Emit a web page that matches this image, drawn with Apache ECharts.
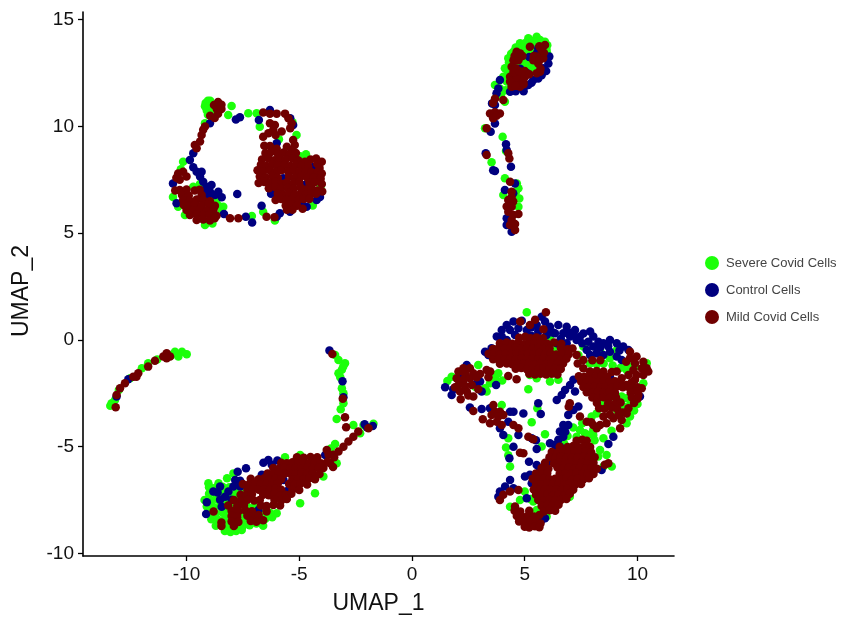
<!doctype html>
<html>

<head>
	<meta charset="utf-8">
	<title>UMAP</title>
	<script src="https://cdn.jsdelivr.net/npm/echarts@6/dist/echarts.min.js"></script>
	<style>
		html, body { margin: 0; padding: 0; background: #fff; }
		#chart { width: 841px; height: 622px; filter: blur(0.5px); }
	</style>
</head>

<body>
	<div id="chart"></div>
	<script>
		var seriesNames = ['Severe Covid Cells', 'Control Cells', 'Mild Covid Cells'];
		var xTicks = [-10, -5, 0, 5, 10];
		var yTicks = [-10, -5, 0, 5, 10, 15];

		// points, one list per island
		var severeRing = [[-9.15,11.1],[-9.05,11.2],[-8.95,11.2],[-9.18,10.95],[-9.0,10.95],[-8.9,10.8],[-9.1,10.75],[-8.95,10.6],[-9.05,10.55],[-8.0,10.96],[-8.15,10.54],[-7.26,10.62],[-6.89,10.62],[-9.18,10.15],[-6.75,9.99],[-5.12,9.6],[-10.15,8.35],[-10.6,6.7],[-10.37,6.24],[-10.07,5.85],[-9.18,5.38],[-8.85,5.45],[-8.6,6.3],[-8.37,6.24],[-8.67,6.55],[-8.44,6.0],[-9.7,7.18],[-7.1,5.8],[-6.6,6.0],[-6.08,5.6],[-4.95,8.6],[-4.7,8.7],[-4.05,7.2],[-5.9,9.4],[-5.3,10.2],[-9.4,7.3],[-9.3,6.9],[-10.25,8.0],[-4.4,6.3]];
		var controlRing = [[-7.81,10.33],[-7.63,10.43],[-6.79,10.3],[-6.3,10.77],[-5.4,10.38],[-5.27,10.07],[-8.96,10.15],[-7.75,6.83],[-6.67,6.29],[-7.37,5.77],[-7.09,5.5],[-8.34,5.9],[-6.0,5.77],[-9.7,8.74],[-9.85,8.43],[-9.7,8.09],[-9.4,7.65],[-9.26,7.41],[-9.11,7.18],[-8.96,6.94],[-8.74,6.79],[-8.44,6.68],[-8.59,6.94],[-8.89,7.26],[-9.33,7.88],[-9.55,7.88],[-10.6,7.33],[-10.44,6.4],[-9.05,6.75],[-9.2,7.0],[-4.23,6.55],[-4.08,6.7],[-4.67,6.24],[-5.86,5.93],[-5.41,6.0],[-4.38,8.1],[-5.71,7.57],[-6.15,6.95],[-4.75,7.26],[-6.0,9.21],[-6.25,6.85],[-4.9,6.4]];
		var mildRing = [[-8.6,11.15],[-8.78,11.0],[-8.45,11.02],[-8.65,10.8],[-8.45,10.82],[-8.6,10.6],[-8.75,10.4],[-8.95,10.5],[-9.18,10.0],[-9.26,9.84],[-9.33,9.6],[-9.4,9.29],[-9.55,8.98],[-9.63,9.13],[-10.15,7.88],[-10.37,7.8],[-10.0,7.65],[-10.3,7.5],[-10.45,7.6],[-10.5,7.0],
			[-10.3,7.02],[-10.0,7.05],[-9.63,7.0],[-9.42,7.03],[-10.2,6.79],[-9.9,6.76],[-9.33,6.79],[-10.15,6.55],[-9.85,6.52],[-9.55,6.58],[-9.26,6.55],[-8.96,6.5],[-10.12,6.32],[-9.92,6.3],[-9.62,6.34],[-9.33,6.3],[-9.03,6.35],[-8.74,6.28],[-10.0,6.09],[-9.7,6.07],[-9.4,6.12],[-9.1,6.05],[-8.8,6.1],[-9.85,5.85],[-9.55,5.88],[-9.26,5.83],[-8.96,5.87],[-8.67,5.82],[-9.55,5.62],[-9.26,5.64],[-8.96,5.6],[-8.75,5.7],[-8.07,5.7],[-7.7,5.7],[-6.45,5.77],[-6.1,5.75],
			[-6.6,10.65],[-6.3,10.6],[-6.0,10.6],[-5.63,10.6],[-5.48,10.38],[-5.34,10.15],[-5.4,9.92],[-6.08,10.07],[-6.3,10.15],[-6.15,9.84],[-6.37,9.68],[-6.05,9.6],[-5.78,9.76],[-6.6,9.52],[-5.27,9.37],[-5.2,9.13],[-5.34,8.9],
			[-6.55,9.1],[-6.3,9.08],[-6.0,8.95],[-5.55,9.05],
			[-6.5,8.75],[-6.25,8.8],[-5.95,8.72],[-5.7,8.78],[-5.42,8.7],[-5.15,8.75],[-4.5,8.45],[-4.25,8.5],
			[-6.65,8.45],[-6.35,8.5],[-6.1,8.42],[-5.85,8.48],[-5.6,8.45],[-5.3,8.5],[-5.05,8.42],[-4.75,8.35],[-4.2,8.25],[-4.0,8.35],
			[-6.7,8.2],[-6.45,8.15],[-6.2,8.22],[-5.95,8.18],[-5.65,8.2],[-5.4,8.15],[-5.15,8.2],[-4.9,8.15],[-4.6,8.12],[-4.1,8.05],
			[-6.85,7.95],[-6.6,7.9],[-6.3,7.95],[-6.05,7.88],[-5.8,7.95],[-5.5,7.9],[-5.25,7.95],[-5.0,7.88],[-4.7,7.9],[-4.45,7.85],[-4.2,7.85],[-4.0,7.8],
			[-6.75,7.65],[-6.5,7.62],[-6.2,7.68],[-5.95,7.6],[-5.45,7.65],[-5.2,7.6],[-4.9,7.68],[-4.65,7.6],[-4.35,7.62],[-4.05,7.55],
			[-6.8,7.35],[-6.55,7.4],[-6.3,7.35],[-6.05,7.4],[-5.8,7.32],[-5.55,7.38],[-5.25,7.35],[-5.0,7.4],[-4.55,7.36],[-4.3,7.4],[-4.0,7.3],
			[-6.35,7.1],[-6.05,7.15],[-5.8,7.08],[-5.5,7.12],[-5.25,7.08],[-4.95,7.15],[-4.7,7.05],[-4.45,7.1],[-4.2,7.0],[-3.98,6.95],
			[-5.95,6.85],[-5.7,6.8],[-5.45,6.88],[-5.2,6.8],[-4.95,6.85],[-4.7,6.8],[-4.45,6.85],[-4.25,6.85],
			[-6.05,6.55],[-5.8,6.6],[-5.55,6.55],[-5.3,6.6],[-5.05,6.55],[-4.8,6.6],[-4.55,6.6],
			[-5.6,6.3],[-5.35,6.35],[-5.1,6.28],[-4.85,6.15],[-5.3,6.1],[-5.55,6.1]];

		var severeStem = [[5.53,14.2],[5.16,14.13],[4.79,13.9],[5.9,13.97],[4.5,13.5],[4.27,13.19],[4.12,12.72],[4.05,12.33],[3.9,11.78],[3.75,11.39],[5.16,12.8],[5.05,13.2],[5.38,13.66],[4.95,13.5],[5.68,14.05],[5.97,13.58],[4.8,12.9],[4.4,13.4],[4.12,11.16],[3.68,11.94],[5.35,14.0],[5.0,13.9],[4.75,13.65],[5.5,13.95],[4.3,12.75],[4.25,12.35],[4.4,11.9],
			[4.6,13.7],[4.9,13.7],[5.2,13.9],[5.5,13.7],[5.75,13.85],[6.0,13.8],[4.3,13.0],[4.6,13.25],[4.25,12.55],[4.55,12.85],[5.25,13.0],[5.0,12.95],[5.3,12.75],[5.45,12.85],[4.2,12.1],[4.15,11.7],[3.95,11.5],[5.15,13.45],[5.4,13.45],[5.7,13.35],[6.0,13.4],
			[4.02,9.52],[4.17,8.85],[3.53,8.32],[4.12,7.57],[4.72,7.1],[4.65,7.33],[4.76,6.63],[4.72,6.24],[4.05,6.79],[3.24,9.91],[4.6,6.9]];
		var controlStem = [[3.9,12.17],[3.83,11.78],[3.75,11.55],[4.35,11.63],[4.94,11.78],[5.16,11.94],[5.38,12.17],[5.6,12.25],[5.82,12.72],[6.05,12.95],[6.09,13.27],[5.6,13.66],[4.8,12.7],[5.1,12.5],[5.3,12.05],[5.75,12.4],[5.95,12.6],[4.95,11.65],[4.6,11.65],[5.55,13.45],[5.2,13.25],[3.68,11.0],[3.55,11.08],[3.68,10.14],[3.49,9.75],[4.17,9.16],[4.2,8.9],[3.68,7.91],[3.6,7.95],[4.39,8.11],[4.12,7.02],[4.57,7.33],[4.49,6.87],[4.2,5.7],[4.2,5.38],[4.42,5.07],[3.27,8.74]];
		var mildStem = [[4.64,13.5],[4.5,13.1],[4.72,13.1],[4.42,12.8],[4.8,13.42],[5.23,13.73],[5.9,13.81],[5.75,13.58],[5.53,13.27],[5.82,13.19],[5.38,13.1],[5.6,12.95],[5.53,12.49],[5.68,12.56],[4.35,12.33],[4.57,12.41],[4.79,12.41],[5.01,12.33],[4.5,12.1],[4.72,12.1],[4.94,12.12],[4.42,11.86],[4.79,11.86],[4.62,12.3],[4.6,12.72],[4.55,13.3],[4.75,13.25],[4.9,13.3],[4.5,12.55],[4.75,12.6],[5.0,12.6],[5.2,12.45],[4.35,12.1],[4.6,11.9],[4.95,11.98],[5.85,13.45],[5.65,13.75],[5.4,13.3],[5.65,13.1],[5.7,12.7],[4.05,11.24],[3.68,11.3],[3.6,11.1],[3.46,10.61],[3.68,10.66],[3.9,10.61],[3.6,10.38],[3.75,10.5],[3.31,9.91],
			[3.31,8.66],[4.27,8.74],[4.32,8.5],[4.35,7.41],[4.42,6.94],[4.42,6.7],[4.27,6.55],[4.49,6.48],[4.2,6.25],[4.42,6.24],[4.27,6.0],[4.72,5.9],[4.49,5.85],[4.42,5.62],[4.57,5.43],[4.35,5.38],[4.57,5.15]];

		var severeBig = [[1.57,-1.92],[2.94,-1.17],[1.76,-1.72],[2.8,-2.19],[3.24,-2.26],[3.46,-2.03],[3.68,-1.8],[3.83,-1.56],[3.6,-1.64],[3.31,-2.42],[4.0,-1.9],
			[5.09,1.3],[5.16,-2.31],[3.98,-3.05],[5.56,-3.2],[5.31,-3.86],[5.9,-4.42],[4.27,-4.6],[4.17,-5.04],[4.35,-5.93],[5.75,-4.99],[4.27,-5.4],
			[5.38,-7.57],[5.53,-7.96],[4.79,-7.5],[4.35,-7.81],[7.0,-7.34],[8.26,-5.46],[8.49,-5.93],[8.86,-5.93],[8.63,-5.39],[8.34,-5.15],[5.97,-8.27],[5.25,-7.45],[5.0,-7.1],[7.67,-4.37],[7.3,-4.53],[8.04,-4.45],[8.49,-4.61],[8.85,-4.25],[9.52,-3.9],[9.67,-3.59],[9.82,-2.81],[9.52,-2.73],[9.3,-2.65],[9.67,-3.05],[9.37,-3.12],[9.08,-2.81],[9.89,-1.25],[9.52,-1.41],[10.41,-1.09],[10.26,-2.03],[9.67,-1.25],[9.08,-0.47],[8.34,-0.47],[7.6,-0.31],[7.38,-0.7],[6.12,0.16],[6.34,-0.47],[5.97,-0.47],[5.53,-1.8],[6.12,-1.95],[5.23,-1.64],[6.49,-1.87],[8.78,-0.86],[7.97,-3.59],[7.45,-4.22],[7.15,-4.1],[8.04,-4.22],[8.49,-2.97],[8.19,-3.44],[9.1,-3.3],[8.9,-1.2],[9.4,-1.2],[9.25,-1.3],[7.9,-1.1],[8.2,-1.15],[8.5,-1.1],[7.55,-3.9],[9.85,-3.3],[10.0,-3.0],[8.1,-4.7],[7.8,-4.45],[6.9,-4.5],[6.75,-4.85]];
		var controlBig = [[1.47,-2.22],[1.76,-2.58],[1.83,-2.31],[2.43,-1.17],[2.13,-1.64],[3.02,-1.95],[2.87,-2.03],[3.09,-2.42],[3.73,-2.11],[2.57,-3.17],[3.09,-3.23],
			[3.46,-3.2],[4.35,-3.36],[4.5,-3.36],[4.94,-3.44],[5.6,-2.97],[5.71,-3.47],[3.9,-4.14],[4.05,-4.45],[4.27,-3.83],[4.72,-4.45],[4.5,-5.0],[4.32,-5.54],[5.19,-5.7],[5.53,-5.11],[5.31,-4.61],[5.5,-4.7],[6.12,-4.84],
			[7.16,-1.87],[7.01,-2.11],[6.79,-2.34],[6.42,-2.81],[6.64,-2.58],[7.23,-2.42],[7.38,-3.12],[7.16,-3.28],[6.93,-3.51],[6.71,-3.98],[6.56,-4.29],[6.71,-4.53],[6.93,-3.98],[6.49,-4.68],[6.34,-4.92],[6.8,-4.3],[6.56,-4.99],
			[3.76,0.16],[3.98,0.47],[4.2,0.7],[4.5,0.86],[4.87,0.9],[4.35,0.47],[4.72,0.55],[5.09,0.47],[5.53,0.7],[5.75,1.09],[5.9,0.86],[6.12,0.62],[6.49,0.7],[6.86,0.62],[7.23,0.47],[6.71,0.31],[6.34,0.31],[5.97,0.23],[7.01,0.16],[7.45,0.16],[7.9,0.39],[8.04,0.16],[8.27,-0.08],[8.49,-0.16],[8.78,0.0],[9.08,-0.16],[9.37,-0.31],[9.6,-0.47],[7.82,-0.08],[8.04,-0.31],[8.19,-0.62],[8.49,-0.7],[8.78,-0.55],[9.08,-0.78],[9.3,-0.94],[7.75,-0.47],[3.24,-0.55],[3.39,-0.7],[3.53,-0.39],[3.98,0.16],[4.2,0.0],[4.57,0.23],[5.9,-0.16],[5.3,0.2],[6.42,-0.16],[6.86,-0.16],[7.3,0.0],[6.0,0.5],[6.6,0.05],[7.55,-0.15],
			[6.25,0.35],[6.95,0.35],[7.15,0.25],[5.6,0.4],[5.3,0.6],[7.6,0.3],[8.35,-0.35],[8.7,-0.3],[9.2,-0.5],[7.9,-0.7],
			[8.78,-1.72],[10.11,-2.65],[8.93,-4.53],[8.71,-4.87],[8.41,-6.09],[5.9,-8.35],[5.75,-8.43],[5.23,-6.32],[5.01,-6.4],[4.35,-6.56],[4.13,-6.87],[3.9,-7.1],[3.83,-7.34],[4.5,-6.95],[5.09,-7.42],[5.31,-6.71],[5.68,-6.09],[5.53,-5.86],[6.05,-5.7],[6.27,-5.23]];
		var mildBig = [[2.28,-1.33],[2.57,-1.33],[2.06,-1.48],[2.35,-1.56],[2.72,-1.56],[1.98,-1.8],[2.28,-1.87],[2.57,-1.8],[2.87,-1.75],[2.06,-2.11],[2.35,-2.15],[2.65,-2.11],[2.13,-2.42],[2.43,-2.42],[2.72,-2.65],[2.16,-2.78],[2.5,-2.6],[1.91,-2.22],[3.02,-1.6],[2.94,-2.31],[3.31,-1.41],[3.47,-1.48],[3.39,-1.75],[4.27,-1.69],[4.64,-1.84],
			[2.72,-3.33],[3.14,-3.72],[3.61,-3.05],[3.53,-3.51],[3.68,-3.36],[3.9,-3.36],[4.05,-3.51],[3.83,-3.59],[3.46,-3.9],[3.76,-3.83],[3.98,-3.98],[4.5,-3.98],[4.72,-4.14],[5.16,-4.53],[5.38,-4.65],[4.79,-5.28],[4.94,-5.31],[7.0,-2.97],[6.95,-3.13],
			[5.94,1.3],[5.83,0.5],[5.23,0.7],[4.8,0.86],[5.46,0.94],
			[4.75,0.1],[5.02,0.15],[5.25,0.08],[5.52,0.12],[5.8,0.08],
			[3.9,-0.15],[4.2,-0.12],[4.45,-0.18],[4.7,-0.14],[4.95,-0.2],[5.2,-0.13],[5.45,-0.16],[5.7,-0.12],[6.0,-0.18],[6.3,-0.12],[6.62,-0.18],
			[3.6,-0.42],[3.85,-0.38],[4.1,-0.43],[4.35,-0.4],[4.6,-0.36],[4.85,-0.43],[5.1,-0.39],[5.35,-0.42],[5.6,-0.37],[5.85,-0.43],[6.1,-0.4],[6.6,-0.37],[6.9,-0.44],[7.12,-0.4],
			[3.4,-0.65],[3.65,-0.62],[3.9,-0.67],[4.15,-0.63],[4.4,-0.66],[4.65,-0.62],[4.9,-0.68],[5.15,-0.63],[5.4,-0.66],[5.65,-0.61],[5.9,-0.67],[6.15,-0.63],[6.4,-0.68],[6.65,-0.63],[6.95,-0.67],
			[3.6,-0.9],[3.85,-0.87],[4.1,-0.92],[4.35,-0.88],[4.6,-0.91],[4.85,-0.87],[5.1,-0.92],[5.35,-0.88],[5.6,-0.91],[5.85,-0.87],[6.1,-0.92],[6.32,-0.88],[6.6,-0.92],[6.85,-0.88],
			[3.9,-1.12],[4.2,-1.1],[4.45,-1.14],[4.7,-1.1],[4.95,-1.13],[5.2,-1.09],[5.45,-1.14],[5.7,-1.1],[5.95,-1.13],[6.2,-1.09],[6.45,-1.14],[6.7,-1.1],
			[4.6,-1.35],[4.85,-1.32],[5.1,-1.37],[5.35,-1.33],[5.6,-1.36],[5.85,-1.32],[6.1,-1.37],[6.35,-1.33],[6.6,-1.36],
			[5.2,-1.58],[5.45,-1.62],[5.7,-1.58],[5.95,-1.62],[6.2,-1.58],[6.45,-1.62],
			[9.67,-0.55],[9.96,-0.78],[10.26,-1.02],[10.41,-1.33],[10.19,-1.33],[10.48,-1.48],[9.89,-1.09],[9.67,-0.86],[9.5,-1.02],[10.26,-1.64],[9.96,-1.64],[9.82,-1.41],[8.86,-1.5],[9.08,-1.48],[9.3,-1.8],[9.6,-1.64],[9.89,-1.87],[10.19,-2.26],[10.04,-2.58],[9.82,-2.26],[9.52,-2.11],[7.6,-0.94],[7.3,-0.7],[7.6,-1.33],[7.9,-1.48],[8.19,-1.45],[8.49,-1.48],[7.35,-1.1],[8.0,-0.95],[8.35,-0.95],
			[7.4,-1.7],[7.65,-1.73],[7.9,-1.68],[8.15,-1.72],[8.4,-1.7],[8.65,-1.73],
			[7.5,-1.95],[7.75,-1.98],[8.0,-1.93],[8.25,-1.97],[8.5,-1.95],[8.75,-1.98],[9.0,-1.93],[9.25,-1.97],[9.75,-1.98],
			[7.6,-2.2],[7.85,-2.23],[8.1,-2.18],[8.35,-2.22],[8.6,-2.2],[8.85,-2.23],[9.1,-2.18],[9.35,-2.22],[9.6,-2.2],[10.0,-2.22],
			[7.75,-2.45],[8.0,-2.48],[8.25,-2.43],[8.5,-2.47],[8.75,-2.45],[9.0,-2.48],[9.7,-2.47],[10.0,-2.4],
			[8.0,-2.7],[8.25,-2.72],[8.5,-2.68],[8.75,-2.72],[9.05,-2.7],[9.75,-2.7],[10.0,-2.75],
			[8.2,-2.95],[8.7,-2.97],[9.0,-3.0],[9.25,-2.93],[9.85,-2.95],
			[8.3,-3.2],[8.55,-3.22],[8.85,-3.18],[9.1,-3.22],[9.35,-3.4],[9.6,-3.2],
			[7.45,-3.59],[7.75,-3.83],[8.04,-3.98],[8.34,-3.98],[8.63,-3.9],[8.93,-3.67],[9.23,-4.14],[9.3,-3.75],[9.52,-3.44],[9.15,-3.51],[8.78,-3.5],[8.49,-3.59],[8.19,-4.14],[7.95,-3.85],
			[7.3,-4.72],[7.55,-4.68],[7.75,-4.72],
			[6.55,-5.0],[6.9,-5.02],[7.15,-4.97],[7.4,-5.03],[7.65,-4.98],[7.9,-5.02],
			[6.2,-5.25],[6.45,-5.28],[6.7,-5.23],[6.95,-5.27],[7.2,-5.25],[7.45,-5.28],[7.7,-5.23],[7.95,-5.27],
			[6.1,-5.5],[6.35,-5.53],[6.6,-5.48],[6.85,-5.52],[7.1,-5.5],[7.35,-5.53],[7.6,-5.48],[7.85,-5.52],[8.1,-5.5],
			[5.9,-5.75],[6.3,-5.78],[6.55,-5.73],[6.8,-5.77],[7.05,-5.75],[7.3,-5.78],[7.55,-5.73],[7.8,-5.77],[8.05,-5.75],[8.71,-5.78],[8.55,-5.85],
			[5.75,-6.0],[6.05,-6.03],[6.45,-5.98],[6.7,-6.02],[6.95,-6.0],[7.2,-6.03],[7.45,-5.98],[7.7,-6.02],[7.95,-6.0],[8.2,-6.03],
			[5.5,-6.25],[5.75,-6.28],[6.0,-6.23],[6.55,-6.27],[6.8,-6.25],[7.05,-6.28],[7.3,-6.23],[7.55,-6.27],[7.8,-6.25],[8.05,-6.28],
			[5.35,-6.5],[5.6,-6.53],[5.85,-6.48],[6.1,-6.52],[6.35,-6.5],[6.6,-6.53],[6.85,-6.48],[7.1,-6.52],[7.35,-6.5],[7.6,-6.53],[7.85,-6.48],
			[5.5,-6.75],[5.75,-6.78],[6.0,-6.73],[6.25,-6.77],[6.5,-6.75],[6.75,-6.78],[7.0,-6.73],[7.25,-6.77],[7.5,-6.75],
			[5.4,-7.0],[5.65,-7.03],[5.9,-6.98],[6.15,-7.02],[6.4,-7.0],[6.65,-7.03],[6.9,-6.98],[7.15,-7.02],
			[5.5,-7.25],[5.75,-7.28],[6.0,-7.23],[6.25,-7.27],[6.5,-7.25],[6.75,-7.28],[7.0,-7.2],
			[5.6,-7.5],[5.85,-7.53],[6.1,-7.48],[6.35,-7.52],[6.6,-7.5],[6.85,-7.45],[3.9,-7.5],[4.35,-7.1],[4.72,-7.03],[4.05,-7.25],
			[4.57,-7.8],[5.75,-7.78],[6.0,-7.73],[6.25,-7.77],[6.5,-7.72],
			[4.55,-8.0],[4.8,-8.03],[5.2,-8.0],[5.85,-8.03],[6.1,-7.98],[6.35,-8.0],
			[4.65,-8.25],[4.9,-8.28],[5.15,-8.23],[5.4,-8.27],[5.65,-8.2],
			[4.75,-8.5],[5.0,-8.53],[5.25,-8.48],[5.5,-8.52],[5.7,-8.6],
			[5.0,-8.75],[5.2,-8.78],[5.45,-8.73],[5.65,-8.77]];

		var severeFish = [[-3.41,-0.7],[-3.26,-0.94],[-2.97,-1.09],[-3.11,-1.4],[-3.26,-1.56],[-3.05,-1.25],[-3.18,-1.75],[-3.11,-2.26],[-3.04,-2.5],[-3.04,-2.97],[-3.16,-3.25],[-3.34,-3.7],[-2.6,-3.98],[-2.15,-3.98],[-1.71,-3.93],
			[-7.92,-6.25],[-8.2,-6.48],[-8.58,-6.71],[-9.03,-6.71],[-8.88,-6.95],[-5.63,-5.5],[-4.96,-5.39],[-3.41,-4.87],[-3.6,-5.08],[-4.3,-7.18],[-4.96,-7.65],[-6.0,-8.12],[-3.34,-5.78],[-3.93,-6.4],[-2.3,-4.37],
			[-9.0,-6.9],[-8.7,-6.92],[-8.4,-6.88],[-8.1,-6.9],[-7.8,-6.92],[-7.5,-6.88],
			[-9.0,-7.2],[-8.7,-7.22],[-8.4,-7.18],[-8.1,-7.2],[-7.8,-7.22],[-7.5,-7.18],[-7.2,-7.2],
			[-9.2,-7.5],[-8.9,-7.52],[-8.6,-7.48],[-8.3,-7.5],[-8.0,-7.52],[-7.7,-7.48],[-7.4,-7.5],
			[-9.1,-7.8],[-8.8,-7.82],[-8.5,-7.78],[-8.2,-7.8],[-7.9,-7.82],[-7.6,-7.78],[-7.3,-7.8],[-7.0,-7.82],
			[-9.0,-8.1],[-8.7,-8.12],[-8.4,-8.08],[-8.1,-8.1],[-7.8,-8.12],[-7.5,-8.08],[-7.2,-8.1],[-6.9,-8.12],[-6.6,-8.08],[-6.3,-8.1],
			[-8.9,-8.4],[-8.6,-8.42],[-8.3,-8.38],[-8.0,-8.4],[-7.7,-8.42],[-7.4,-8.38],[-7.1,-8.4],[-6.8,-8.42],[-6.5,-8.38],[-6.2,-8.3],
			[-8.7,-8.7],[-8.4,-8.72],[-8.1,-8.68],[-7.8,-8.7],[-7.5,-8.72],[-7.2,-8.68],[-6.9,-8.6],[-6.6,-8.7],
			[-8.3,-8.95],[-8.05,-9.0],[-7.8,-8.95],[-7.55,-8.9]];
		var controlFish = [[-3.66,-0.5],[-3.08,-1.94],[-3.04,-2.69],[-2.0,-4.09],[-1.74,-4.03],[-2.1,-3.95],
			[-6.59,-5.75],[-6.37,-5.62],[-5.97,-5.65],[-6.66,-6.32],[-7.36,-6.01],[-7.73,-6.17],[-7.84,-6.56],[-7.62,-6.87],[-7.92,-6.87],[-8.14,-7.1],[-8.51,-6.87],[-8.81,-7.1],[-8.29,-7.34],[-8.51,-7.49],[-8.44,-7.81],[-8.0,-7.49],[-9.1,-7.6],[-9.13,-8.15],[-7.1,-6.79],[-5.7,-6.56],[-5.48,-7.03],[-6.81,-7.96],[-3.85,-5.39],[-6.22,-5.85],[-7.62,-6.6],[-8.62,-7.15]];
		var mildFish = [[-3.53,-0.66],[-3.07,-2.75],[-2.97,-3.62],[-2.92,-4.09],[-1.93,-4.14],
			[-2.38,-4.29],[-2.6,-4.53],[-2.82,-4.76],[-3.04,-5.0],[-3.26,-5.23],[-3.5,-5.38],[-3.78,-5.15],[-3.7,-5.38],[-3.45,-5.5],[-3.63,-5.78],[-3.5,-5.95],[-3.93,-6.0],
			[-5.1,-5.5],[-4.8,-5.52],[-4.5,-5.48],[-4.2,-5.5],
			[-5.8,-5.75],[-5.55,-5.78],[-5.3,-5.73],[-5.05,-5.77],[-4.8,-5.75],[-4.55,-5.78],[-4.3,-5.73],[-4.05,-5.77],[-3.75,-5.7],
			[-6.15,-6.0],[-5.9,-6.03],[-5.65,-5.98],[-5.4,-6.02],[-5.15,-6.0],[-4.9,-6.03],[-4.65,-5.98],[-4.4,-6.02],[-4.15,-6.0],
			[-6.4,-6.25],[-6.15,-6.28],[-5.9,-6.23],[-5.65,-6.27],[-5.4,-6.25],[-5.15,-6.28],[-4.9,-6.23],[-4.65,-6.27],[-4.4,-6.25],[-4.1,-6.28],
			[-7.15,-6.5],[-6.8,-6.53],[-6.55,-6.48],[-6.3,-6.52],[-6.05,-6.5],[-5.8,-6.53],[-5.3,-6.52],[-5.05,-6.5],[-4.8,-6.53],[-4.55,-6.48],[-4.3,-6.52],
			[-7.5,-6.75],[-7.25,-6.78],[-6.95,-6.73],[-6.7,-6.77],[-6.45,-6.75],[-6.2,-6.78],[-5.95,-6.73],[-5.45,-6.75],[-5.2,-6.78],[-4.95,-6.73],[-4.65,-6.77],
			[-7.3,-7.03],[-7.05,-6.98],[-6.8,-7.02],[-6.55,-7.0],[-6.3,-7.03],[-6.05,-6.98],[-5.8,-7.02],[-5.3,-7.0],[-5.0,-7.03],
			[-7.6,-7.25],[-7.35,-7.28],[-7.1,-7.23],[-6.6,-7.25],[-6.35,-7.28],[-6.1,-7.23],[-5.85,-7.27],[-5.6,-7.25],[-5.35,-7.2],
			[-7.9,-7.5],[-7.6,-7.53],[-7.3,-7.48],[-7.0,-7.52],[-6.75,-7.5],[-6.1,-7.48],[-5.8,-7.52],[-5.55,-7.45],
			[-8.15,-7.75],[-7.75,-7.78],[-7.45,-7.73],[-6.7,-7.75],[-6.45,-7.78],[-6.15,-7.73],[-5.85,-7.75],
			[-8.8,-8.04],[-8.0,-8.0],[-7.7,-8.03],[-7.4,-7.98],[-7.1,-8.02],[-6.45,-8.03],
			[-8.0,-8.25],[-7.75,-8.28],[-7.3,-8.23],[-7.05,-8.27],[-6.8,-8.2],
			[-8.45,-8.55],[-8.0,-8.5],[-7.7,-8.53],[-7.15,-8.48],[-6.9,-8.52],[-6.6,-8.45],
			[-8.45,-8.72],[-7.9,-8.72]];

		var severeArc = [[-9.99,-0.67],[-10.2,-0.55],[-10.51,-0.55],[-10.36,-0.78],[-13.32,-2.97],[-13.38,-3.08],[-13.17,-2.81],[-11.7,-1.09],[-12.5,-1.8],[-13.0,-2.34],[-11.3,-0.92],[-11.98,-1.33],[-10.66,-0.7]];
		var controlArc = [[-13.1,-2.65],[-12.58,-1.84]];
		var mildArc = [[-10.88,-0.62],[-11.03,-0.78],[-10.73,-0.78],[-10.88,-0.86],[-11.4,-0.98],[-11.7,-1.25],[-12.14,-1.56],[-12.36,-1.72],[-12.22,-1.72],[-12.73,-2.03],[-12.95,-2.26],[-13.1,-2.58],[-13.14,-3.15]];

		var severeCells = severeRing.concat(severeStem, severeBig, severeFish, severeArc);
		var controlCells = controlRing.concat(controlStem, controlBig, controlFish, controlArc);
		var mildCells = mildRing.concat(mildStem, mildBig, mildFish, mildArc);

		var umapChart = echarts.init(document.getElementById('chart'), null, { renderer: 'canvas' });

		function axisStyle(ticks, name, gap) {
			return {
				type: 'value',
				name: name,
				nameLocation: 'middle',
				nameGap: gap,
				nameTextStyle: { color: '#111', fontSize: 23, fontFamily: 'Liberation Sans' },
				splitLine: { show: false },
				axisLine: { show: true, onZero: false, lineStyle: { color: '#000', width: 1.6 } },
				axisTick: { show: true, length: 5, customValues: ticks, lineStyle: { color: '#000', width: 1.3 } },
				axisLabel: { customValues: ticks, color: '#111', fontSize: 19, margin: 9, fontFamily: 'Liberation Sans' }
			};
		}

		var xAxisOpt = axisStyle(xTicks, 'UMAP_1', 36);
		xAxisOpt.min = -14.59;
		xAxisOpt.max = 11.62;
		var yAxisOpt = axisStyle(yTicks, 'UMAP_2', 50);
		yAxisOpt.min = -10.12;
		yAxisOpt.max = 15.36;
		yAxisOpt.nameTextStyle.padding = [0, 14, 0, 0];

		function cellSeries(name, color, data) {
			return {
				name: name,
				type: 'scatter',
				symbolSize: 8.5,
				itemStyle: { color: color, opacity: 1 },
				data: data
			};
		}

		umapChart.setOption({
			animation: false,
			grid: { left: 83, right: 167, top: 12, bottom: 66 },
			legend: {
				left: 700,
				top: 251,
				orient: 'vertical',
				icon: 'circle',
				itemWidth: 14,
				itemHeight: 14,
				itemGap: 13,
				textStyle: { color: '#444', fontSize: 13, fontFamily: 'Liberation Sans', padding: [0, 0, 0, 2] },
				data: seriesNames
			},
			xAxis: xAxisOpt,
			yAxis: yAxisOpt,
			series: [
				cellSeries(seriesNames[0], '#1cff0a', severeCells),
				cellSeries(seriesNames[1], '#00007f', controlCells),
				cellSeries(seriesNames[2], '#700000', mildCells)
			]
		});
	</script>
</body>

</html>
